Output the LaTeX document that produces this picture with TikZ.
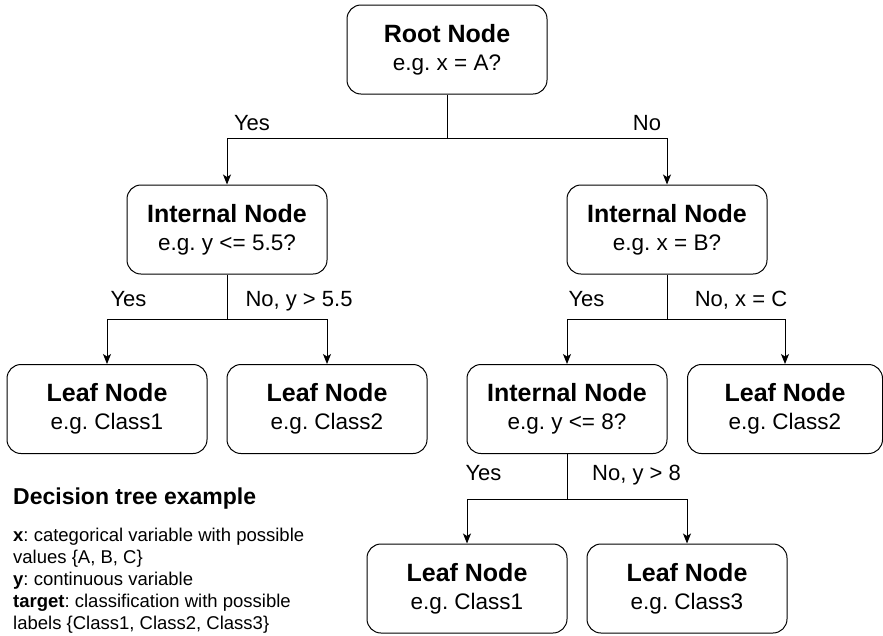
\documentclass[tikz,border=0pt]{standalone}
\usepackage{fontspec}
\setmainfont{Liberation Sans}
\usetikzlibrary{arrows.meta}
\frenchspacing
\begin{document}
\begin{tikzpicture}[x=1pt,y=-1pt,
  treebox/.style={draw=black, line width=1pt, rounded corners=14pt, minimum width=200pt, minimum height=89pt, align=center, inner sep=0pt, font=\frenchspacing\fontsize{22.5}{28.3}\selectfont},
  edgelbl/.style={anchor=base, inner sep=0pt, font=\frenchspacing\fontsize{22}{26}\selectfont},
  conn/.style={line width=1pt},
  arr/.style={line width=1pt, -{Stealth[length=10pt,width=8pt,inset=2.5pt]}}]
\useasboundingbox (0,0) rectangle (883,635);
% nodes
\node[treebox] (root) at (447,49.5) {{\bfseries\fontsize{25}{28.3}\selectfont Root Node}\\e.g. x = A?};
\node[treebox] (intL) at (227,229.5) {{\bfseries\fontsize{25}{28.3}\selectfont Internal Node}\\e.g. y <= 5.5?};
\node[treebox] (intR) at (667,229.5) {{\bfseries\fontsize{25}{28.3}\selectfont Internal Node}\\e.g. x = B?};
\node[treebox] (leafA) at (107,409) {{\bfseries\fontsize{25}{28.3}\selectfont Leaf Node}\\e.g. Class1};
\node[treebox] (leafB) at (327,409) {{\bfseries\fontsize{25}{28.3}\selectfont Leaf Node}\\e.g. Class2};
\node[treebox] (intC) at (567,409) {{\bfseries\fontsize{25}{28.3}\selectfont Internal Node}\\e.g. y <= 8?};
\node[treebox, minimum width=195pt] (leafC) at (785,409) {{\bfseries\fontsize{25}{28.3}\selectfont Leaf Node}\\e.g. Class2};
\node[treebox] (leafD) at (467,588.5) {{\bfseries\fontsize{25}{28.3}\selectfont Leaf Node}\\e.g. Class1};
\node[treebox] (leafE) at (687,588.5) {{\bfseries\fontsize{25}{28.3}\selectfont Leaf Node}\\e.g. Class3};
% branch points
\coordinate (b0) at (447,138);
\coordinate (b1) at (227,319);
\coordinate (b2) at (667,319);
\coordinate (b3) at (567,499);
% connectors
\draw[conn] (root.south) -- (b0);
\draw[arr] (b0) -| (intL.north);
\draw[arr] (b0) -| (intR.north);
\draw[conn] (intL.south) -- (b1);
\draw[arr] (b1) -| (leafA.north);
\draw[arr] (b1) -| (leafB.north);
\draw[conn] (intR.south) -- (b2);
\draw[arr] (b2) -| (intC.north);
\draw[arr] (b2) -| (leafC.north);
\draw[conn] (intC.south) -- (b3);
\draw[arr] (b3) -| (leafD.north);
\draw[arr] (b3) -| (leafE.north);
% edge labels
\node[edgelbl] (l0a) at (252,130) {Yes};
\node[edgelbl] (l0b) at (647,130) {No};
\node[edgelbl] (l1a) at (128.5,306) {Yes};
\node[edgelbl] (l1b) at (299,306) {No, y > 5.5};
\node[edgelbl] (l2a) at (586.5,306) {Yes};
\node[edgelbl] (l2b) at (741,306) {No, x = C};
\node[edgelbl] (l3a) at (483.5,480) {Yes};
\node[edgelbl] (l3b) at (636.5,480) {No, y > 8};
% legend
\node[anchor=base west, inner sep=0pt, font=\bfseries\fontsize{23}{27}\selectfont] (legtitle) at (13,504) {Decision tree example};
\node[anchor=north west, inner sep=0pt, align=left, font=\frenchspacing\fontsize{18.5}{22}\selectfont] (legbody) at (13,527.5) {\textbf{x}: categorical variable with possible\\values \{A, B, C\}\\\textbf{y}: continuous variable\\\textbf{target}: classification with possible\\labels \{Class1, Class2, Class3\}};
\end{tikzpicture}
\end{document}
